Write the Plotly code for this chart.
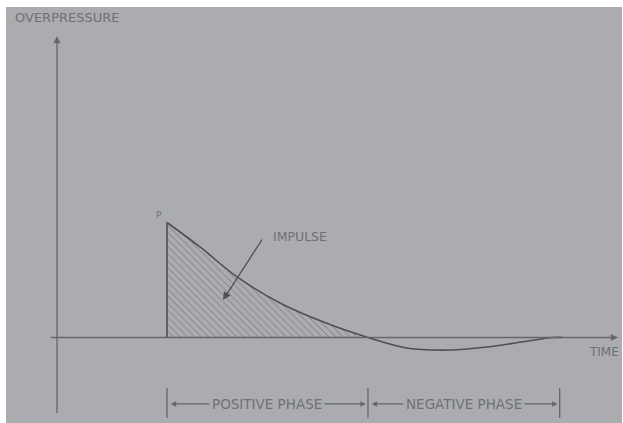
import plotly.graph_objects as go

# ---- data (time in arbitrary units, overpressure normalised to peak = 1) ----
curve_t = [1.0, 1.30, 1.634, 2.027, 2.452, 2.827, 3.179, 3.573, 3.936, 4.236, 4.509, 4.60]
curve_p = [1.0, 0.787, 0.529, 0.300, 0.123, 0.0, -0.091, -0.109, -0.080, -0.037, 0.0, 0.0]
t_arrival = 1.0
t_zero = 2.827
t_end = 4.57
phase_labels = ["POSITIVE PHASE", "NEGATIVE PHASE"]
axis_labels = ["OVERPRESSURE", "TIME"]

BG = "#abacaf"
LINE = "#4f5054"
AX = "#66676b"
TXT = "#6f7074"
FONT = "DejaVu Sans"

pos_t = [t for t, p in zip(curve_t, curve_p) if t <= t_zero]
pos_p = [p for t, p in zip(curve_t, curve_p) if t <= t_zero]

fig = go.Figure()

# hatched positive-phase impulse area
fig.add_trace(go.Scatter(
    x=pos_t, y=pos_p, mode="lines", line=dict(width=0, shape="spline"),
    fill="tozeroy", fillcolor="rgba(0,0,0,0)",
    fillpattern=dict(shape="\\", size=5, solidity=0.16, fgcolor="#5e5f63",
                     fgopacity=0.75, fillmode="overlay"),
    hoverinfo="skip", showlegend=False))

# vertical shock front
fig.add_trace(go.Scatter(x=[t_arrival, t_arrival], y=[0, curve_p[0]], mode="lines",
                         line=dict(color=LINE, width=1.6), hoverinfo="skip", showlegend=False))
# pressure-time curve
fig.add_trace(go.Scatter(x=curve_t, y=curve_p, mode="lines",
                         line=dict(color=LINE, width=1.6, shape="spline", smoothing=1.0),
                         hoverinfo="skip", showlegend=False))

# phase boundary ticks
for tb in [t_arrival, t_zero, t_end]:
    fig.add_trace(go.Scatter(x=[tb, tb], y=[-0.44, -0.70], mode="lines",
                             line=dict(color=AX, width=1.3), hoverinfo="skip", showlegend=False))

ann = []
# axes with arrowheads
ann.append(dict(x=5.10, y=0, ax=-0.07, ay=0, xref="x", yref="y", axref="x", ayref="y",
                text="", showarrow=True, arrowhead=2, arrowsize=1.1, arrowwidth=1.3, arrowcolor=AX))
ann.append(dict(x=0, y=2.62, ax=0, ay=-0.67, xref="x", yref="y", axref="x", ayref="y",
                text="", showarrow=True, arrowhead=2, arrowsize=1.1, arrowwidth=1.3, arrowcolor=AX))

# phase double arrows
y_ph = -0.578
for a, b, lab in [(t_arrival, t_zero, phase_labels[0]), (t_zero, t_end, phase_labels[1])]:
    ann.append(dict(x=b - 0.02, y=y_ph, ax=a + 0.02, ay=y_ph, xref="x", yref="y", axref="x", ayref="y",
                    text="", showarrow=True, arrowhead=2, arrowside="end+start",
                    arrowsize=0.9, arrowwidth=1.2, arrowcolor=AX))
    ann.append(dict(x=(a + b) / 2, y=y_ph, xref="x", yref="y", text=lab, showarrow=False,
                    bgcolor=BG, borderpad=2, font=dict(family=FONT, size=13.5, color=TXT)))

# labels
ann.append(dict(x=-0.40, y=2.785, xref="x", yref="y", text=axis_labels[0], showarrow=False,
                xanchor="left", font=dict(family=FONT, size=13, color=TXT)))
ann.append(dict(x=5.13, y=-0.13, xref="x", yref="y", text=axis_labels[1], showarrow=False,
                xanchor="right", font=dict(family=FONT, size=12, color=TXT)))
ann.append(dict(x=0.93, y=1.065, xref="x", yref="y", text="P", showarrow=False,
                font=dict(family=FONT, size=9, color=TXT)))
# impulse label + leader arrow
ann.append(dict(x=2.21, y=0.874, xref="x", yref="y", text="IMPULSE", showarrow=False,
                font=dict(family=FONT, size=12.5, color=TXT)))
ann.append(dict(x=1.509, y=0.326, ax=1.873, ay=0.865, xref="x", yref="y", axref="x", ayref="y",
                text="", showarrow=True, arrowhead=2, arrowsize=1.2, arrowwidth=1.3, arrowcolor=LINE))

fig.update_layout(
    width=623, height=423,
    margin=dict(l=6, r=1, t=7, b=0, autoexpand=False),
    paper_bgcolor="white", plot_bgcolor=BG,
    annotations=ann, hovermode=False,
    xaxis=dict(range=[-0.4636, 5.1364], visible=False, fixedrange=True),
    yaxis=dict(range=[-0.7435, 2.8739], visible=False, fixedrange=True),
)

fig.write_html("out.html", config={"displayModeBar": False},
               post_script="document.body.style.margin='0px';document.body.style.overflow='hidden';")
